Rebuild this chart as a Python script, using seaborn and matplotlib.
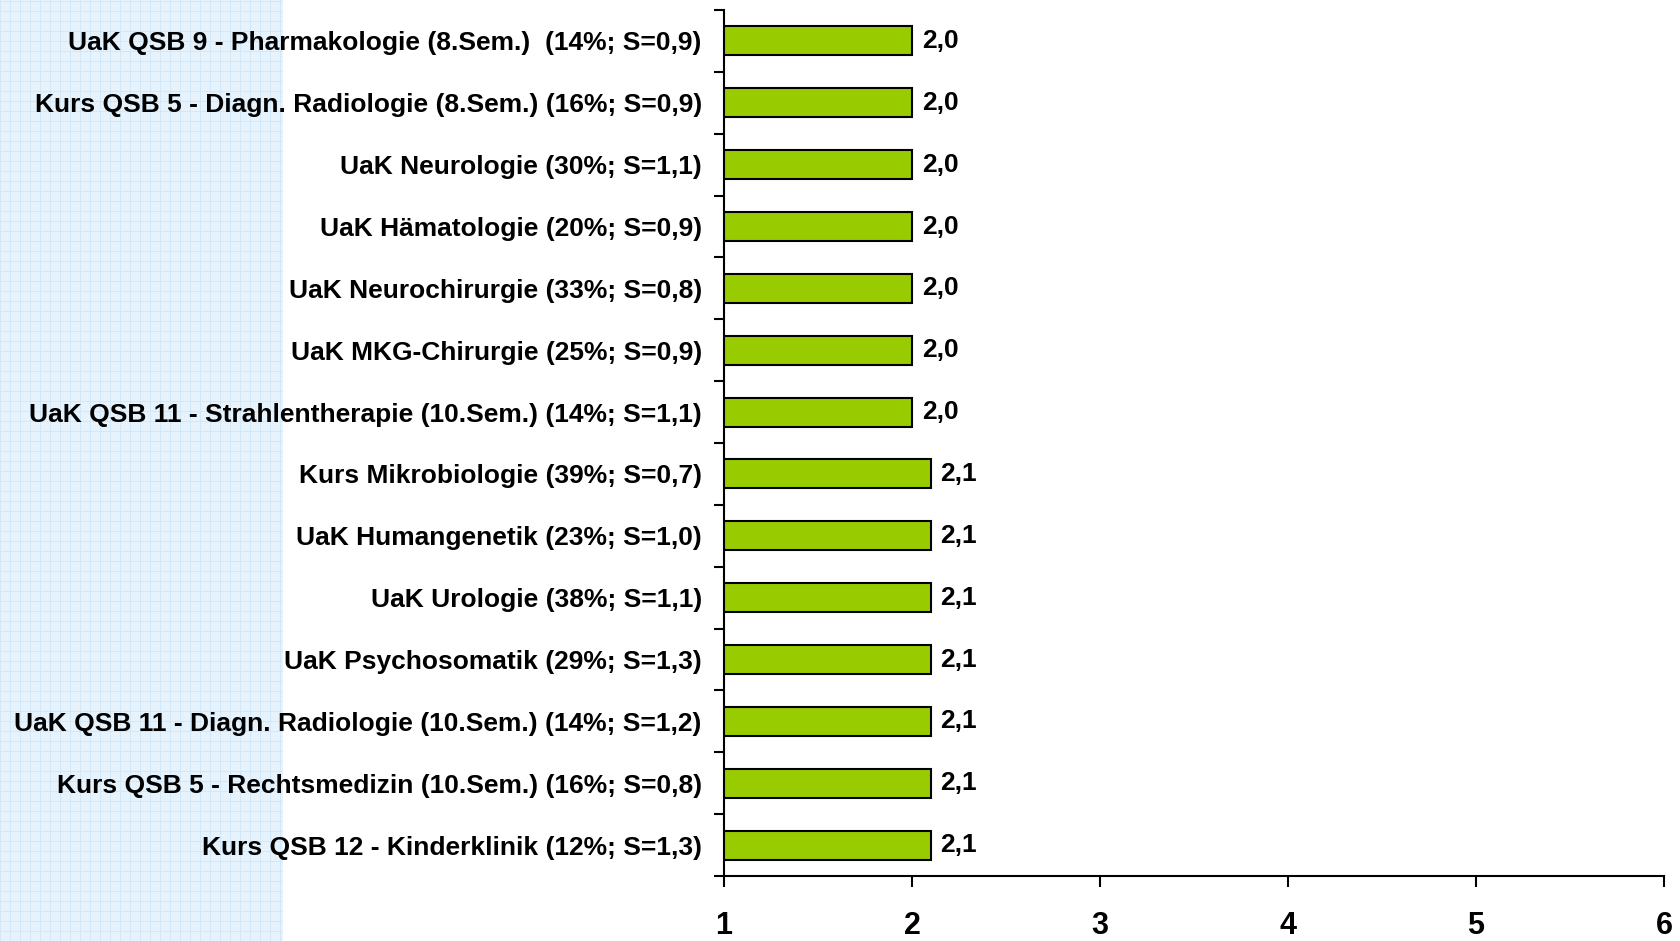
import matplotlib
matplotlib.use('Agg')

import seaborn as sns
import matplotlib.pyplot as plt
import pandas as pd
import numpy as np

# Lehrveranstaltungen (von oben nach unten)
kurse = [
    "UaK QSB 9 - Pharmakologie (8.Sem.)  (14%; S=0,9)",
    "Kurs QSB 5 - Diagn. Radiologie (8.Sem.) (16%; S=0,9)",
    "UaK Neurologie (30%; S=1,1)",
    "UaK Hämatologie (20%; S=0,9)",
    "UaK Neurochirurgie (33%; S=0,8)",
    "UaK MKG-Chirurgie (25%; S=0,9)",
    "UaK QSB 11 - Strahlentherapie (10.Sem.) (14%; S=1,1)",
    "Kurs Mikrobiologie (39%; S=0,7)",
    "UaK Humangenetik (23%; S=1,0)",
    "UaK Urologie (38%; S=1,1)",
    "UaK Psychosomatik (29%; S=1,3)",
    "UaK QSB 11 - Diagn. Radiologie (10.Sem.) (14%; S=1,2)",
    "Kurs QSB 5 - Rechtsmedizin (10.Sem.) (16%; S=0,8)",
    "Kurs QSB 12 - Kinderklinik (12%; S=1,3)",
]
noten = [2.0, 2.0, 2.0, 2.0, 2.0, 2.0, 2.0, 2.1, 2.1, 2.1, 2.1, 2.1, 2.1, 2.1]
x_ticks = [1, 2, 3, 4, 5, 6]

df = pd.DataFrame({"kurs": kurse, "note": noten})

sns.set_style("white")
plt.rcParams['font.family'] = ['Liberation Sans', 'DejaVu Sans']
plt.rcParams['font.weight'] = 'bold'
plt.rcParams['text.color'] = 'black'
plt.rcParams['xtick.color'] = 'black'
plt.rcParams['ytick.color'] = 'black'

fig = plt.figure(figsize=(16.81, 9.41), dpi=100)

# hellblaues Karopapier links
bg = fig.add_axes([0, 0, 283 / 1681, 1], zorder=0)
bg.set_facecolor('#e6f3fd')
w_px, h_px = 283, 941
for xv in np.arange(0, w_px, 10):
    bg.axvline(xv, color='#d2e8f9', lw=0.7)
for yv in np.arange(0, h_px, 10):
    bg.axhline(yv, color='#d2e8f9', lw=0.7)
bg.set_xlim(0, w_px)
bg.set_ylim(0, h_px)
bg.set_xticks([])
bg.set_yticks([])
for s in bg.spines.values():
    s.set_visible(False)

ax = fig.add_axes([724 / 1681, 1 - 876 / 941, 940 / 1681, 866 / 941], zorder=1)
ax.patch.set_alpha(0)

sns.barplot(data=df, y="kurs", x="note", orient='h', color='#99cc00',
            edgecolor='black', linewidth=1.5, width=0.47, saturation=1, ax=ax)

ax.set_xlim(1, 6)
ax.set_ylim(len(kurse) - 0.5, -0.5)
ax.set_xticks(x_ticks)
ax.set_xticklabels([str(t) for t in x_ticks], fontsize=22, fontweight='bold')
ax.tick_params(axis='x', direction='out', length=8, width=1.5, pad=17, bottom=True)

# Ticks an den Kategoriegrenzen, Beschriftung mittig
ax.set_yticks(np.arange(-0.5, len(kurse), 1))
ax.set_yticklabels([])
ax.set_yticks(np.arange(len(kurse)), minor=True)
ax.set_yticklabels(kurse, minor=True, fontsize=19, fontweight='bold')
ax.tick_params(axis='y', which='major', direction='out', length=7, width=1.5, left=True)
ax.tick_params(axis='y', which='minor', length=0, pad=16)

ax.set_xlabel("")
ax.set_ylabel("")

for s in ['top', 'right']:
    ax.spines[s].set_visible(False)
for s in ['left', 'bottom']:
    ax.spines[s].set_linewidth(1.5)
    ax.spines[s].set_color('black')

labels = [f"{v:.1f}".replace('.', ',') for v in noten]
ax.bar_label(ax.containers[0], labels=labels, padding=7, fontsize=19,
             fontweight='bold', color='black')

fig.savefig("out.png", dpi=100)
plt.close('all')
